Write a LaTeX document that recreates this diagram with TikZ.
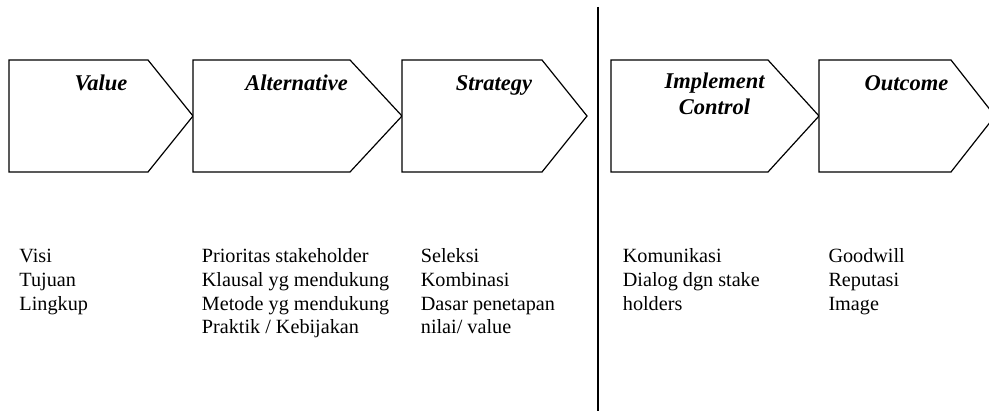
\documentclass[tikz,border=0pt]{standalone}
\usepackage{fontspec}
\setmainfont{Liberation Serif}
\begin{document}
\begin{tikzpicture}[x=1pt,y=-1pt,
  chev/.style={draw=black,line width=1.2pt,line join=miter,fill=white},
  ttl/.style={anchor=base,align=center,inner sep=0pt,font=\fontsize{22.5}{26.7}\selectfont\bfseries\itshape},
  body/.style={anchor=base west,align=left,inner sep=0pt,font=\fontsize{20.2}{23.7}\selectfont},
  divider/.style={draw=black,line width=1.8pt}]
\useasboundingbox (0,0) rectangle (989,411);
% chevrons
\draw[chev] (9,60) -- (148,60) -- (193,116) -- (148,172) -- (9,172) -- cycle;
\draw[chev] (193,60) -- (350,60) -- (402,116) -- (350,172) -- (193,172) -- (193,116) -- cycle;
\draw[chev] (402,60) -- (542,60) -- (587,116) -- (542,172) -- (402,172) -- (402,116) -- cycle;
\draw[chev] (611,60) -- (768,60) -- (819,116) -- (768,172) -- (611,172) -- cycle;
\draw[chev] (819,60) -- (951,60) -- (995,116) -- (951,172) -- (819,172) -- (819,116) -- cycle;
% divider
\coordinate (dtop) at (598,7);
\coordinate (dbot) at (598,412);
\draw[divider] (dtop) -- (dbot);
% titles (base anchor = baseline of last line)
\node[ttl] (t1) at (101,90.7) {Value};
\node[ttl] (t2) at (296.5,90.7) {Alternative};
\node[ttl] (t3) at (494,90.7) {Strategy};
\node[ttl] (t4) at (714.5,115) {Implement\\Control};
\node[ttl] (t5) at (906.5,90.7) {Outcome};
% lists (base anchor = baseline of last line)
\node[body] (l1) at (19.3,310.1) {Visi\\Tujuan\\Lingkup};
\node[body] (l2) at (201.7,333.8) {Prioritas stakeholder\\Klausal yg mendukung\\Metode yg mendukung\\Praktik / Kebijakan};
\node[body] (l3) at (420.7,333.8) {Seleksi\\Kombinasi\\Dasar penetapan\\nilai/ value};
\node[body] (l4) at (622.7,310.1) {Komunikasi\\Dialog dgn stake\\holders};
\node[body] (l5) at (828.3,310.1) {Goodwill\\Reputasi\\Image};
\end{tikzpicture}
\end{document}
